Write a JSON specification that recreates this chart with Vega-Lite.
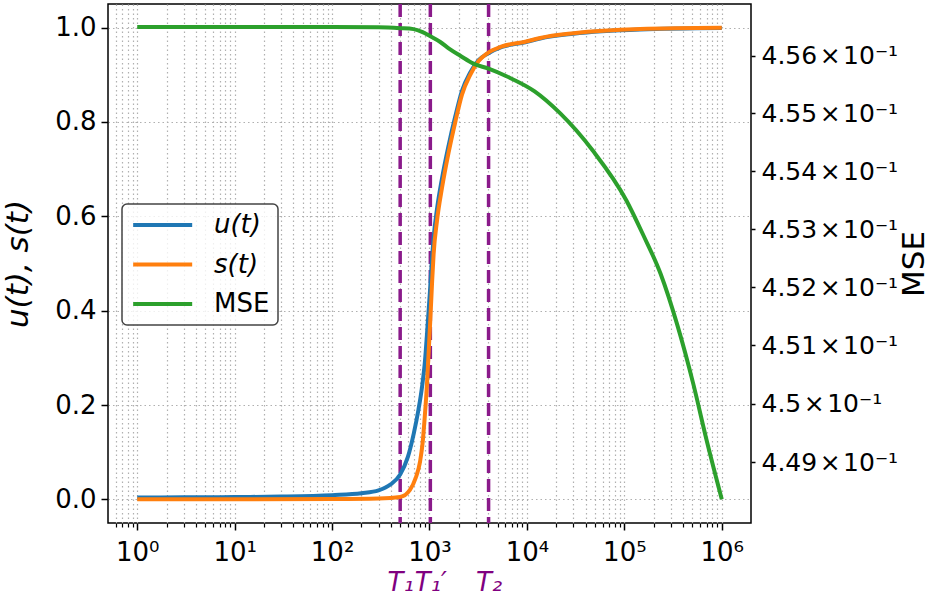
{
  "$schema": "https://vega.github.io/schema/vega-lite/v6.json",
  "width": 643,
  "height": 519,
  "autosize": {"type": "none"},
  "padding": {"left": 108, "top": 4, "right": 178, "bottom": 78},
  "background": "white",
  "config": {
    "font": "DejaVu Sans",
    "view": {"stroke": "black", "strokeWidth": 1.5},
    "axis": {
      "domain": false,
      "labelFont": "DejaVu Sans",
      "labelColor": "black",
      "tickColor": "black",
      "tickWidth": 1.5,
      "labelFontSize": 26,
      "titleFont": "DejaVu Sans",
      "titleFontSize": 31,
      "titleFontWeight": "normal",
      "titleColor": "black",
      "labelOverlap": false,
      "labelFlush": false,
      "gridColor": "#b0b0b0",
      "gridDash": [1.5, 3],
      "gridWidth": 1.2
    }
  },
  "datasets": {
    "minor": [
      {"t": 0.6}, {"t": 0.7}, {"t": 0.8}, {"t": 0.9},
      {"t": 2}, {"t": 3}, {"t": 4}, {"t": 5}, {"t": 6}, {"t": 7}, {"t": 8}, {"t": 9},
      {"t": 20}, {"t": 30}, {"t": 40}, {"t": 50}, {"t": 60}, {"t": 70}, {"t": 80}, {"t": 90},
      {"t": 200}, {"t": 300}, {"t": 400}, {"t": 500}, {"t": 600}, {"t": 700}, {"t": 800}, {"t": 900},
      {"t": 2000}, {"t": 3000}, {"t": 4000}, {"t": 5000}, {"t": 6000}, {"t": 7000}, {"t": 8000}, {"t": 9000},
      {"t": 20000}, {"t": 30000}, {"t": 40000}, {"t": 50000}, {"t": 60000}, {"t": 70000}, {"t": 80000}, {"t": 90000},
      {"t": 200000}, {"t": 300000}, {"t": 400000}, {"t": 500000}, {"t": 600000}, {"t": 700000}, {"t": 800000}, {"t": 900000}
    ],
    "tlines": [
      {"t": 500, "name": "T1"},
      {"t": 1020, "name": "T1'"},
      {"t": 4040, "name": "T2"}
    ],
    "curves": [
      {"t": 1, "series": "u(t)", "value": 0.004},
      {"t": 3, "series": "u(t)", "value": 0.0045},
      {"t": 10, "series": "u(t)", "value": 0.005},
      {"t": 30, "series": "u(t)", "value": 0.006},
      {"t": 100, "series": "u(t)", "value": 0.009},
      {"t": 200, "series": "u(t)", "value": 0.013},
      {"t": 300, "series": "u(t)", "value": 0.019},
      {"t": 400, "series": "u(t)", "value": 0.032},
      {"t": 500, "series": "u(t)", "value": 0.053},
      {"t": 600, "series": "u(t)", "value": 0.09},
      {"t": 690, "series": "u(t)", "value": 0.14},
      {"t": 770, "series": "u(t)", "value": 0.19},
      {"t": 840, "series": "u(t)", "value": 0.24},
      {"t": 900, "series": "u(t)", "value": 0.295},
      {"t": 942, "series": "u(t)", "value": 0.35},
      {"t": 1010, "series": "u(t)", "value": 0.44},
      {"t": 1060, "series": "u(t)", "value": 0.51},
      {"t": 1102, "series": "u(t)", "value": 0.555},
      {"t": 1193, "series": "u(t)", "value": 0.615},
      {"t": 1343, "series": "u(t)", "value": 0.68},
      {"t": 1570, "series": "u(t)", "value": 0.75},
      {"t": 1840, "series": "u(t)", "value": 0.812},
      {"t": 2155, "series": "u(t)", "value": 0.866},
      {"t": 2620, "series": "u(t)", "value": 0.905},
      {"t": 3190, "series": "u(t)", "value": 0.931},
      {"t": 3890, "series": "u(t)", "value": 0.944},
      {"t": 5550, "series": "u(t)", "value": 0.959},
      {"t": 9610, "series": "u(t)", "value": 0.969},
      {"t": 13700, "series": "u(t)", "value": 0.977},
      {"t": 30000, "series": "u(t)", "value": 0.987},
      {"t": 145000, "series": "u(t)", "value": 0.996},
      {"t": 1000000, "series": "u(t)", "value": 0.999},
      {"t": 1, "series": "s(t)", "value": 0.0005},
      {"t": 10, "series": "s(t)", "value": 0.0005},
      {"t": 100, "series": "s(t)", "value": 0.001},
      {"t": 300, "series": "s(t)", "value": 0.002},
      {"t": 500, "series": "s(t)", "value": 0.005},
      {"t": 630, "series": "s(t)", "value": 0.02},
      {"t": 720, "series": "s(t)", "value": 0.045},
      {"t": 800, "series": "s(t)", "value": 0.08},
      {"t": 850, "series": "s(t)", "value": 0.12},
      {"t": 890, "series": "s(t)", "value": 0.17},
      {"t": 940, "series": "s(t)", "value": 0.24},
      {"t": 979, "series": "s(t)", "value": 0.31},
      {"t": 1019, "series": "s(t)", "value": 0.38},
      {"t": 1060, "series": "s(t)", "value": 0.455},
      {"t": 1102, "series": "s(t)", "value": 0.52},
      {"t": 1193, "series": "s(t)", "value": 0.59},
      {"t": 1343, "series": "s(t)", "value": 0.66},
      {"t": 1570, "series": "s(t)", "value": 0.735},
      {"t": 1840, "series": "s(t)", "value": 0.80},
      {"t": 2155, "series": "s(t)", "value": 0.858},
      {"t": 2620, "series": "s(t)", "value": 0.90},
      {"t": 3190, "series": "s(t)", "value": 0.929},
      {"t": 3890, "series": "s(t)", "value": 0.945},
      {"t": 5550, "series": "s(t)", "value": 0.96},
      {"t": 9610, "series": "s(t)", "value": 0.97},
      {"t": 13700, "series": "s(t)", "value": 0.978},
      {"t": 30000, "series": "s(t)", "value": 0.988},
      {"t": 145000, "series": "s(t)", "value": 0.997},
      {"t": 1000000, "series": "s(t)", "value": 0.9995},
      {"t": 1, "series": "MSE", "value": 0.456498},
      {"t": 100, "series": "MSE", "value": 0.456498},
      {"t": 300, "series": "MSE", "value": 0.456495},
      {"t": 500, "series": "MSE", "value": 0.45648},
      {"t": 687, "series": "MSE", "value": 0.456463},
      {"t": 850, "series": "MSE", "value": 0.45641},
      {"t": 1010, "series": "MSE", "value": 0.456343},
      {"t": 1290, "series": "MSE", "value": 0.45624},
      {"t": 1600, "series": "MSE", "value": 0.45612},
      {"t": 2070, "series": "MSE", "value": 0.456},
      {"t": 2830, "series": "MSE", "value": 0.455863},
      {"t": 4040, "series": "MSE", "value": 0.455777},
      {"t": 6250, "series": "MSE", "value": 0.45564},
      {"t": 12000, "series": "MSE", "value": 0.455382},
      {"t": 22000, "series": "MSE", "value": 0.455},
      {"t": 47600, "series": "MSE", "value": 0.454353},
      {"t": 105000, "series": "MSE", "value": 0.453495},
      {"t": 155000, "series": "MSE", "value": 0.452912},
      {"t": 236000, "series": "MSE", "value": 0.452226},
      {"t": 347000, "series": "MSE", "value": 0.451368},
      {"t": 510000, "series": "MSE", "value": 0.450339},
      {"t": 698000, "series": "MSE", "value": 0.449378},
      {"t": 1000000, "series": "MSE", "value": 0.448366}
    ]
  },
  "resolve": {"scale": {"y": "independent"}, "axis": {"x": "independent"}},
  "layer": [
    {
      "data": {"name": "minor"},
      "mark": {"type": "rule", "opacity": 0},
      "encoding": {
        "x": {
          "field": "t", "type": "quantitative",
          "scale": {"type": "log", "domain": [0.50119, 1995262], "nice": false},
          "axis": {
            "orient": "bottom", "values": [0.6,0.7,0.8,0.9,2,3,4,5,6,7,8,9,20,30,40,50,60,70,80,90,200,300,400,500,600,700,800,900,2000,3000,4000,5000,6000,7000,8000,9000,20000,30000,40000,50000,60000,70000,80000,90000,200000,300000,400000,500000,600000,700000,800000,900000],
            "labels": false, "tickSize": 4, "tickWidth": 1.2, "grid": true, "title": null
          }
        }
      }
    },
    {
      "data": {"name": "tlines"},
      "mark": {"type": "rule", "color": "#8a1a8a", "strokeWidth": 3.5, "strokeDash": [13, 6]},
      "encoding": {
        "x": {
          "field": "t", "type": "quantitative",
          "scale": {"type": "log", "domain": [0.50119, 1995262], "nice": false},
          "axis": {
            "orient": "bottom", "values": [500, 1020, 4040],
            "labelExpr": "datum.value == 500 ? 'T₁' : (datum.value == 1020 ? 'T₁′' : 'T₂')",
            "ticks": false, "grid": false, "labelPadding": 46, "labelColor": "#800080",
            "labelFontStyle": "italic", "labelFontSize": 26, "title": null
          }
        }
      }
    },
    {
      "data": {"name": "curves"},
      "transform": [{"filter": "datum.series == 'u(t)'"}],
      "mark": {"type": "line", "strokeWidth": 4, "interpolate": "monotone"},
      "encoding": {
        "x": {
          "field": "t", "type": "quantitative",
          "scale": {"type": "log", "domain": [0.50119, 1995262], "nice": false},
          "axis": {
            "orient": "bottom", "values": [1, 10, 100, 1000, 10000, 100000, 1000000],
            "labelExpr": "'10' + ['⁰','¹','²','³','⁴','⁵','⁶'][round(log(datum.value)/LN10)]",
            "tickSize": 7, "labelPadding": 9, "grid": true, "title": null
          }
        },
        "y": {
          "field": "value", "type": "quantitative",
          "scale": {"domain": [-0.05, 1.05], "nice": false, "zero": false},
          "axis": {
            "orient": "left", "values": [0, 0.2, 0.4, 0.6, 0.8, 1.0], "format": ".1f",
            "tickSize": 7, "labelPadding": 5, "grid": true,
            "title": "u(t), s(t)", "titleFontStyle": "italic", "titleAngle": -90,
            "titleX": -90, "titleY": 259.5, "titleBaseline": "middle", "titleAlign": "center"
          }
        },
        "color": {
          "field": "series", "type": "nominal",
          "scale": {"domain": ["u(t)", "s(t)", "MSE"], "range": ["#1f77b4", "#ff7f0e", "#2ca02c"]},
          "legend": {
            "title": null, "orient": "none", "legendX": 14, "legendY": 200,
            "symbolType": "M-1,0H5", "symbolStrokeWidth": 4, "symbolSize": 387,
            "labelFontSize": 26, "labelFont": "DejaVu Sans", "labelColor": "black",
            "strokeColor": "#444444", "fillColor": "rgba(255,255,255,0.8)",
            "cornerRadius": 5, "padding": 8, "rowPadding": 13.5, "labelOffset": 58, "labelLimit": 300,
            "encode": {
              "labels": {"update": {"fontStyle": {"signal": "datum.label == 'MSE' ? 'normal' : 'italic'"}}},
              "legend": {"update": {"strokeWidth": {"value": 1.5}}}
            }
          }
        }
      }
    },
    {
      "data": {"name": "curves"},
      "transform": [{"filter": "datum.series == 's(t)'"}],
      "mark": {"type": "line", "strokeWidth": 4, "interpolate": "monotone"},
      "encoding": {
        "x": {
          "field": "t", "type": "quantitative",
          "scale": {"type": "log", "domain": [0.50119, 1995262], "nice": false},
          "axis": null
        },
        "y": {
          "field": "value", "type": "quantitative",
          "scale": {"domain": [-0.05, 1.05], "nice": false, "zero": false},
          "axis": null
        },
        "color": {"field": "series", "type": "nominal"}
      }
    },
    {
      "data": {"name": "curves"},
      "transform": [{"filter": "datum.series == 'MSE'"}],
      "mark": {"type": "line", "strokeWidth": 4, "interpolate": "monotone"},
      "encoding": {
        "x": {
          "field": "t", "type": "quantitative",
          "scale": {"type": "log", "domain": [0.50119, 1995262], "nice": false},
          "axis": null
        },
        "y": {
          "field": "value", "type": "quantitative",
          "scale": {"type": "log", "domain": [0.44796, 0.4569], "nice": false, "zero": false},
          "axis": {
            "orient": "right", "values": [0.449, 0.45, 0.451, 0.452, 0.453, 0.454, 0.455, 0.456],
            "labelExpr": "format(datum.value * 10, '.3~f') + '\u200a×\u200a10⁻¹'",
            "labelFontSize": 25,
            "tickSize": 4, "labelPadding": 6, "grid": false,
            "title": "MSE", "titleAngle": -90, "titleX": 163, "titleY": 259.5,
            "titleBaseline": "middle", "titleAlign": "center"
          }
        },
        "color": {"field": "series", "type": "nominal"}
      }
    }
  ]
}
